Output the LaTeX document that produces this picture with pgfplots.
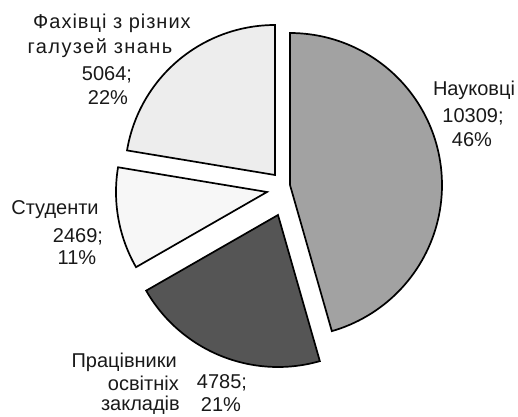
\documentclass[border=0pt]{standalone}
\usepackage{pgfplots}
\pgfplotsset{compat=1.18}
\usepackage{fontspec}
\setmainfont{Liberation Sans}
% data
\def\vA{10309}% Науковці
\def\vB{4785}%  Працівники освітніх закладів
\def\vC{2469}%  Студенти
\def\vD{5064}%  Фахівці з різних галузей знань
\pgfmathsetmacro\T{\vA/1000+\vB/1000+\vC/1000+\vD/1000}
\pgfmathsetmacro\aA{90}
\pgfmathsetmacro\aB{\aA-\vA/1000/\T*360}
\pgfmathsetmacro\aC{\aB-\vB/1000/\T*360}
\pgfmathsetmacro\aD{\aC-\vC/1000/\T*360}
\pgfmathsetmacro\aE{\aA-360}
\definecolor{cA}{HTML}{A2A2A2}
\definecolor{cB}{HTML}{555555}
\definecolor{cC}{HTML}{F7F7F7}
\definecolor{cD}{HTML}{EDEDED}
\begin{document}
\begin{tikzpicture}
\begin{axis}[hide axis, x=1pt, y=1pt, xmin=0, xmax=518, ymin=0, ymax=416,
  clip=false, scale only axis]
\path (rel axis cs:0,0) rectangle (rel axis cs:1,1);
\pgfplotsset{slice/.style={draw=black, line width=1.7pt, samples=90, variable=\t}}
% Науковці
\addplot[slice, fill=cA, domain=\aB:\aA] ({290+152*cos(\t)},{231+152*sin(\t)}) -- (axis cs:290,231) -- cycle;
% Працівники
\addplot[slice, fill=cB, domain=\aC:\aB] ({278+152*cos(\t)},{201+152*sin(\t)}) -- (axis cs:278,201) -- cycle;
% Студенти
\addplot[slice, fill=cC, domain=\aD:\aC] ({267+151*cos(\t)},{224+151*sin(\t)}) -- (axis cs:267,224) -- cycle;
% Фахівці
\addplot[slice, fill=cD, domain=\aE:\aD] ({275+150*cos(\t)},{241+150*sin(\t)}) -- (axis cs:275,241) -- cycle;
% labels
\tikzset{lbl/.style={font=\fontsize{20}{25}\selectfont, inner sep=0pt, text=black!90}}
\node[lbl] at (axis cs:112,393) {\addfontfeature{LetterSpace=5}Фахівці з різних};
\node[lbl] at (axis cs:100,368) {\addfontfeature{LetterSpace=7}галузей знань};
\node[lbl] at (axis cs:107,341) {5064;};
\node[lbl] at (axis cs:108,318) {22\%};
\node[lbl] at (axis cs:474,326) {Науковці};
\node[lbl] at (axis cs:473,299) {10309;};
\node[lbl] at (axis cs:472,276) {46\%};
\node[lbl] at (axis cs:55,206) {Студенти};
\node[lbl] at (axis cs:78,179) {2469;};
\node[lbl] at (axis cs:77,158) {11\%};
\node[lbl, anchor=east] at (axis cs:177,54) {Працівники};
\node[lbl, anchor=east] at (axis cs:179,33) {освітніх};
\node[lbl, anchor=east] at (axis cs:180,11) {закладів};
\node[lbl] at (axis cs:222,33) {4785;};
\node[lbl] at (axis cs:221,11) {21\%};
\end{axis}
\end{tikzpicture}
\end{document}
